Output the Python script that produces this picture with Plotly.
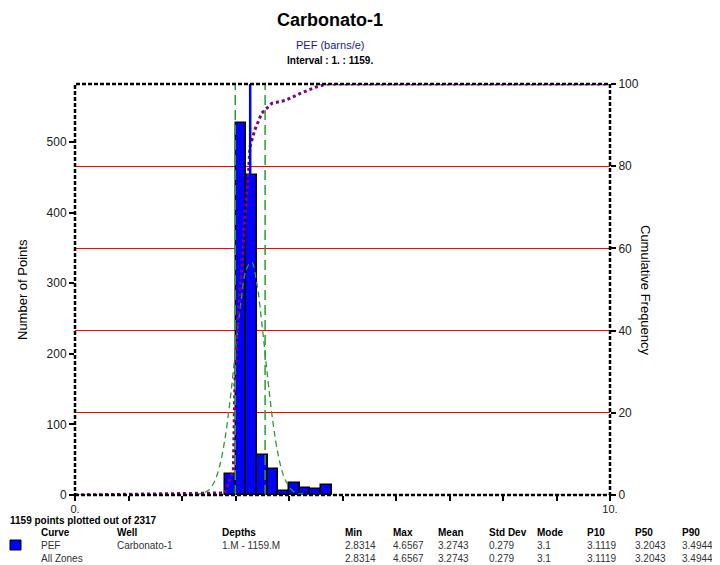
import plotly.graph_objects as go

# Histogram bins (PEF, barns/e) and counts
bin_left = [2.8, 3.0, 3.2, 3.4, 3.6, 3.8, 4.0, 4.2, 4.4, 4.6]
counts = [30, 527, 453, 56, 37, 6, 17, 10, 9, 14]
bin_width = 0.2

# Fitted normal curve
norm_x = [0.0, 2.2, 2.4, 2.5, 2.6, 2.7, 2.8, 2.9, 3.0, 3.1, 3.2, 3.3, 3.4, 3.5,
          3.6, 3.7, 3.8, 3.9, 4.0, 4.1, 4.3, 4.5, 10.0]
norm_y = [0, 0, 3, 7, 18, 40, 78, 135, 204, 272, 319, 330, 299, 238,
          167, 103, 56, 27, 12, 4, 1, 0, 0]

# Cumulative frequency (%)
cum_x = [0.0, 2.8, 2.96, 2.99, 3.05, 3.12, 3.18, 3.24, 3.27, 3.36, 3.49,
         3.68, 3.93, 4.21, 4.49, 4.70, 10.0]
cum_y = [0, 0.5, 6, 28, 44, 55.5, 68.5, 77.5, 84.7, 88.8, 92.9,
         95.3, 96, 97.7, 99.2, 100, 100]

# Statistics table
header = ["Curve", "Well", "Depths", "Min", "Max", "Mean", "Std Dev", "Mode", "P10", "P50", "P90"]
row_pef = ["PEF", "Carbonato-1", "1.M - 1159.M", "2.8314", "4.6567", "3.2743", "0.279", "3.1",
           "3.1119", "3.2043", "3.4944"]
row_all = ["All Zones", "", "", "2.8314", "4.6567", "3.2743", "0.279", "3.1",
           "3.1119", "3.2043", "3.4944"]
mean_val = 3.2743
std_val = 0.279

# plot area in page pixels (page has an 8px body margin)
OFF = 8
L, R, T, B = 75, 610, 84, 495
W, H = 720 - OFF, 565 - OFF


def px(x):
    return (x - L) / (R - L)


def py(y):
    return (B - y) / (B - T)


fig = go.Figure()

fig.add_trace(go.Bar(
    x=[b + bin_width / 2 for b in bin_left], y=counts, width=bin_width,
    marker=dict(color="#0000ff", line=dict(color="black", width=1.5)),
    showlegend=False))

fig.add_trace(go.Scatter(
    x=norm_x, y=norm_y, mode="lines", line=dict(color="#2e9b2e", width=1.3, dash="6px,4px"),
    line_shape="spline", showlegend=False))

fig.add_trace(go.Scatter(
    x=cum_x, y=cum_y, mode="lines", yaxis="y2",
    line=dict(color="#800080", width=3, dash="3px,3px"), showlegend=False))

# mean and mean +/- std lines
fig.add_shape(type="line", x0=mean_val, x1=mean_val, y0=0, y1=1, yref="paper",
              line=dict(color="#0000ff", width=2.5))
for v in (mean_val - std_val, mean_val + std_val):
    fig.add_shape(type="line", x0=v, x1=v, y0=0, y1=1, yref="paper",
                  line=dict(color="#2e9b2e", width=1.5, dash="10px,5px"))

# dashed frame
fig.add_shape(type="rect", xref="paper", yref="paper", x0=0, x1=1, y0=0, y1=1,
              line=dict(color="black", width=2.5, dash="4px,2px"), layer="above")

font = "Liberation Sans Narrow, Liberation Sans, Arial"
tickfont = dict(family=font, size=12, color="#222")

fig.update_layout(
    width=W, height=H,
    margin=dict(l=L - OFF, r=720 - R, t=T - OFF, b=565 - B),
    plot_bgcolor="white", paper_bgcolor="white",
    bargap=0,
    xaxis=dict(range=[0, 10], tickvals=list(range(11)),
               ticktext=["0."] + [""] * 9 + ["10."],
               ticks="outside", ticklen=5, tickwidth=2, tickcolor="black",
               ticklabelstandoff=-1,
               showgrid=False, zeroline=False, showline=False,
               tickfont=dict(family=font, size=11, color="#222")),
    yaxis=dict(range=[0, 582], tickvals=[0, 100, 200, 300, 400, 500],
               ticks="outside", ticklen=5, tickwidth=2, tickcolor="black",
               showgrid=False, zeroline=False, showline=False, tickfont=tickfont),
    yaxis2=dict(range=[0, 100], overlaying="y", side="right",
                tickvals=[0, 20, 40, 60, 80, 100],
                ticks="outside", ticklen=5, tickwidth=2, tickcolor="black",
                showgrid=True, gridcolor="#ff0000", gridwidth=1,
                zeroline=False, showline=False, tickfont=tickfont),
)

ann = []
ann.append(dict(text="<b>Carbonato-1</b>", x=px(330), y=py(20), font=dict(family="Liberation Sans", size=18, color="black")))
ann.append(dict(text="PEF (barns/e)", x=px(330), y=py(45), font=dict(family="Liberation Sans", size=11, color="#1a1a8c")))
ann.append(dict(text="<b>Interval : 1. : 1159.</b>", x=px(330), y=py(60), font=dict(family=font, size=10, color="black")))
ann.append(dict(text="Number of Points", x=px(22), y=py(290), textangle=-90,
                font=dict(family=font, size=13, color="black")))
ann.append(dict(text="Cumulative Frequency", x=px(646), y=py(290), textangle=90,
                font=dict(family=font, size=13, color="black")))
ann.append(dict(text="<b>1159 points plotted out of 2317</b>", x=px(8), y=py(520), xanchor="left",
                font=dict(family=font, size=10, color="black")))

col_x = [39, 115, 220, 343, 391, 436, 487, 535, 585, 633, 680]
for cx, h, a, b in zip(col_x, header, row_pef, row_all):
    ann.append(dict(text="<b>" + h + "</b>", x=px(cx), y=py(532), xanchor="left",
                    font=dict(family=font, size=10, color="black")))
    ann.append(dict(text=a, x=px(cx), y=py(545), xanchor="left",
                    font=dict(family=font, size=10, color="#333")))
    if b:
        ann.append(dict(text=b, x=px(cx), y=py(558), xanchor="left",
                        font=dict(family=font, size=10, color="#333")))

for a in ann:
    a.update(xref="paper", yref="paper", showarrow=False)
    a.setdefault("xanchor", "center")
    a.setdefault("yanchor", "middle")
fig.update_layout(annotations=ann)

# legend swatch for PEF
fig.add_shape(type="rect", xref="paper", yref="paper", x0=px(10), x1=px(21), y0=py(550), y1=py(540),
              fillcolor="#0000ff", line=dict(color="black", width=1))

fig.write_html("out.html")
